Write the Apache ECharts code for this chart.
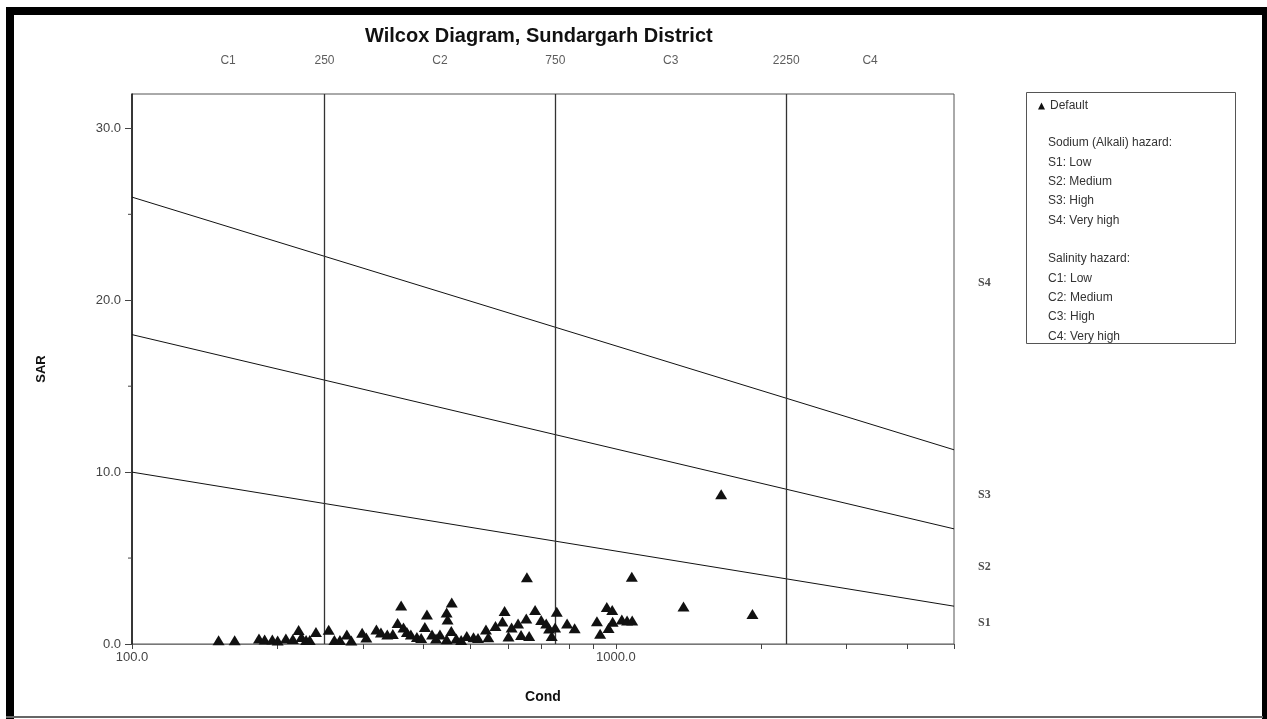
<!DOCTYPE html>
<html><head><meta charset="utf-8">
<script src="https://cdn.jsdelivr.net/npm/echarts@6/dist/echarts.min.js"></script>
<style>html,body{margin:0;padding:0;background:#fff}#c{width:1267px;height:719px}</style>
</head><body><div id="c"></div>
<script>
// ---- data ----
const condValues = [151,163,183,188,195,200,208,215,221,224,229,233,240,255,262,269,278,284,299,305,320,327,337,346,354,360,364,370,377,388,396,403,407,417,425,433,447,449,458,457,447,468,479,492,508,519,539,545,564,583,589,600,609,628,637,653,655,662,681,701,718,728,737,755,749,793,822,914,928,958,983,985,966,1029,1055,1081,1079,1380,1916,1651];
const sarValues = [0.22,0.22,0.32,0.26,0.26,0.20,0.32,0.29,0.81,0.41,0.23,0.23,0.70,0.83,0.23,0.23,0.55,0.20,0.65,0.38,0.84,0.67,0.55,0.58,1.22,2.24,0.96,0.70,0.55,0.41,0.35,0.99,1.72,0.55,0.32,0.55,1.83,1.42,2.41,0.76,0.27,0.32,0.23,0.47,0.39,0.35,0.85,0.39,1.05,1.31,1.92,0.44,0.96,1.20,0.52,1.49,3.88,0.47,1.98,1.40,1.20,0.90,0.47,1.88,0.96,1.19,0.91,1.32,0.60,2.15,1.98,1.30,0.93,1.42,1.37,1.37,3.92,2.18,1.74,8.72];
const condMin = 100, condMax = 5000, sarMin = 0, sarMax = 32;
const sBoundaryAtMin = [10, 18, 26];     // SAR of S1/S2, S2/S3, S3/S4 boundaries at cond = 100
const sBoundaryAtMax = [2.2, 6.7, 11.3]; // same boundaries at cond = 5000
const salinityBounds = [250, 750, 2250];
const topLabelX = [158, 250, 433, 750, 1299, 2250, 3354];
const topLabelText = ['C1', '250', 'C2', '750', 'C3', '2250', 'C4'];
const sLabels = ['S1', 'S2', 'S3', 'S4'];
const sLabelY = [1.2, 4.5, 8.7, 21.0];
const xTickValues = [100,200,300,400,500,600,700,800,900,1000,2000,3000,4000,5000];
const xLabelValues = [100, 1000];
const yTickValues = [0, 10, 20, 30];
const yMinorTickValues = [5, 15, 25];
const legendLines = ['Sodium (Alkali) hazard:', 'S1: Low', 'S2: Medium', 'S3: High', 'S4: Very high', '', 'Salinity hazard:', 'C1: Low', 'C2: Medium', 'C3: High', 'C4: Very high'];

const FONT = 'Liberation Sans, Arial, sans-serif';
const chart = echarts.init(document.getElementById('c'), null, {renderer: 'canvas'});

const points = condValues.map((c, i) => [c, sarValues[i]]);
const boundarySeries = sBoundaryAtMin.map((v, i) => ({
  type: 'line', name: 'bound' + i, silent: true, symbol: 'none', animation: false,
  data: [[condMin, v], [condMax, sBoundaryAtMax[i]]],
  lineStyle: {color: '#111', width: 1}, z: 3
}));

const legendGraphics = [
  {type: 'rect', shape: {x: 1026.5, y: 92.5, width: 209, height: 251}, style: {fill: 'none', stroke: '#555', lineWidth: 1}, silent: true}
];
legendLines.forEach((t, i) => {
  if (!t) return;
  const y = i < 5 ? 143 + i * 19.3 : 259 + (i - 6) * 19.3;
  legendGraphics.push({type: 'text', silent: true, style: {text: t, x: 1048, y: y, font: '12px ' + FONT, fill: '#333', verticalAlign: 'middle', align: 'left'}});
});

const option = {
  animation: false,
  backgroundColor: '#fff',
  title: {
    text: 'Wilcox Diagram, Sundargarh District', left: 360, top: 21,
    textStyle: {fontFamily: FONT, fontSize: 20, fontWeight: 'bold', color: '#111'}
  },
  legend: {
    data: ['Default'], left: 1033, top: 95, icon: 'triangle', itemWidth: 7, itemHeight: 7,
    textStyle: {fontFamily: FONT, fontSize: 12, color: '#333'}, selectedMode: false
  },
  grid: {left: 132, right: 313, top: 94, bottom: 75, show: true, borderColor: '#555', borderWidth: 1, containLabel: false},
  xAxis: {
    type: 'log', logBase: 10, min: condMin, max: condMax,
    name: 'Cond', nameLocation: 'middle', nameGap: 46,
    nameTextStyle: {fontFamily: FONT, fontSize: 14, fontWeight: 'bold', color: '#111'},
    axisLine: {show: true, lineStyle: {color: '#777', width: 1}},
    axisTick: {show: true, length: 5, customValues: xTickValues, lineStyle: {color: '#444'}},
    axisLabel: {customValues: xLabelValues, margin: 7, color: '#444', fontFamily: FONT, fontSize: 13, formatter: v => Number(v).toFixed(1)},
    splitLine: {show: false}, minorTick: {show: false}
  },
  yAxis: {
    type: 'value', min: sarMin, max: sarMax,
    name: 'SAR', nameLocation: 'middle', nameGap: 84, nameRotate: 90,
    nameTextStyle: {fontFamily: FONT, fontSize: 13, fontWeight: 'bold', color: '#111'},
    axisLine: {show: true, lineStyle: {color: '#111', width: 1.5}},
    axisTick: {show: true, length: 7, customValues: yTickValues, lineStyle: {color: '#444'}},
    axisLabel: {customValues: yTickValues, margin: 11, color: '#444', fontFamily: FONT, fontSize: 13, formatter: v => Number(v).toFixed(1)},
    splitLine: {show: false}
  },
  graphic: [
    // outer frame of the picture
    {type: 'rect', shape: {x: 6, y: 7, width: 1261, height: 8}, style: {fill: '#000'}, silent: true},
    {type: 'rect', shape: {x: 6, y: 7, width: 8, height: 712}, style: {fill: '#000'}, silent: true},
    {type: 'rect', shape: {x: 1262, y: 7, width: 5, height: 712}, style: {fill: '#000'}, silent: true},
    {type: 'rect', shape: {x: 6, y: 716, width: 1257, height: 2}, style: {fill: '#666'}, silent: true}
  ].concat(legendGraphics),
  series: [
    {
      type: 'scatter', name: 'Default', data: points, symbol: 'triangle', symbolSize: [12, 10],
      itemStyle: {color: '#111', opacity: 1}, z: 5, clip: false
    },
    ...boundarySeries,
    {
      type: 'line', name: 'zones', data: [], silent: true,
      markLine: {
        silent: true, symbol: ['none', 'none'], label: {show: false},
        lineStyle: {color: '#333', width: 1.3, type: 'solid'},
        data: salinityBounds.map(v => ({xAxis: v}))
      }
    },
    {
      type: 'scatter', name: 'topLabels', silent: true, clip: false, symbolSize: 0,
      data: topLabelX.map((x, i) => ({value: [x, sarMax], name: topLabelText[i]})),
      label: {show: true, position: 'top', distance: 27, formatter: p => p.name, color: '#333', fontFamily: FONT, fontSize: 12}
    },
    {
      type: 'scatter', name: 'sLabels', silent: true, clip: false, symbolSize: 0,
      data: sLabelY.map((y, i) => ({value: [condMax, y], name: sLabels[i]})),
      label: {show: true, position: 'right', distance: 24, formatter: p => p.name, color: '#222', fontFamily: 'Liberation Serif, Times New Roman, serif', fontWeight: 'bold', fontSize: 12}
    },
    {
      type: 'scatter', name: 'yMinor', silent: true, clip: false, symbol: 'rect', symbolSize: [4, 1], symbolOffset: [-2, 0],
      data: yMinorTickValues.map(v => [condMin, v]), itemStyle: {color: '#444', opacity: 1}
    }
  ]
};
chart.setOption(option);
</script></body></html>
